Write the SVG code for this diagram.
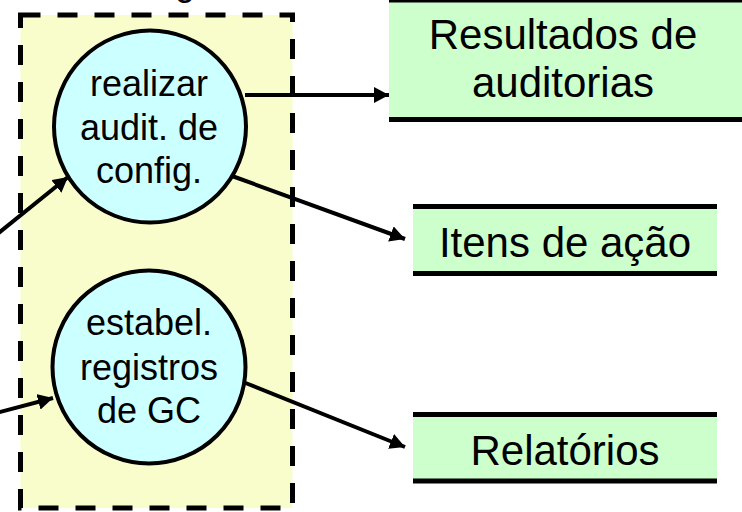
<svg xmlns="http://www.w3.org/2000/svg" width="742" height="512" viewBox="0 0 742 512">
  <style>
    .t { font-family: "Liberation Sans", Arial, sans-serif; fill: #000; text-anchor: middle; }
    .c { font-size: 36px; }
    .b { font-size: 42px; }
    .proc { fill: #CCFFFF; stroke: #000; stroke-width: 4; }
    .store { fill: #CCFFCC; }
    .bar { stroke: #000; stroke-width: 5; }
    .conn { stroke: #000; stroke-width: 4; fill: none; marker-end: url(#ah); }
  </style>
  <defs>
    <marker id="ah" markerUnits="userSpaceOnUse" markerWidth="16" markerHeight="16" refX="15" refY="8" orient="auto" viewBox="0 0 16 16">
      <path d="M0,0 L15,8 L0,16 z" fill="#000"/>
    </marker>
  </defs>

  <rect width="742" height="512" fill="#fff"/>

  <text class="t c" x="185" y="-5">g</text>

  <g id="boundary">
    <rect x="20.5" y="15" width="272" height="493" fill="#F9FDCB" stroke="#000" stroke-width="5" stroke-dasharray="20 17"/>
  </g>

  <g id="connectors">
    <line class="conn" x1="245" y1="95" x2="389" y2="95"/>
    <line class="conn" x1="232" y1="176" x2="405" y2="239"/>
    <line class="conn" x1="243" y1="382" x2="405" y2="447"/>
    <line class="conn" x1="-10" y1="240" x2="68" y2="177"/>
    <line class="conn" x1="-10" y1="414.7" x2="53" y2="398"/>
  </g>

  <g id="proc-auditoria">
    <circle class="proc" cx="150" cy="126.5" r="96"/>
    <text class="t c" x="149" y="96">realizar</text>
    <text class="t c" x="149" y="140">audit. de</text>
    <text class="t c" x="149" y="183">config.</text>
  </g>

  <g id="proc-registros">
    <circle class="proc" cx="149" cy="367" r="96.5"/>
    <text class="t c" x="149" y="335">estabel.</text>
    <text class="t c" x="149" y="380">registros</text>
    <text class="t c" x="149" y="423">de GC</text>
  </g>

  <g id="store-resultados">
    <rect class="store" x="389" y="0" width="360" height="119"/>
    <line class="bar" x1="389" y1="0" x2="750" y2="0"/>
    <line class="bar" x1="389" y1="119.5" x2="750" y2="119.5"/>
    <text class="t b" x="563" y="49">Resultados de</text>
    <text class="t b" x="563" y="97">auditorias</text>
  </g>

  <g id="store-itens">
    <rect class="store" x="413" y="206.5" width="304" height="67"/>
    <line class="bar" x1="413" y1="206.5" x2="717" y2="206.5"/>
    <line class="bar" x1="413" y1="273.5" x2="717" y2="273.5"/>
    <text class="t b" x="565" y="257">Itens de ação</text>
  </g>

  <g id="store-relatorios">
    <rect class="store" x="413" y="414.5" width="304" height="66.5"/>
    <line class="bar" x1="413" y1="414.5" x2="717" y2="414.5"/>
    <line class="bar" x1="413" y1="481" x2="717" y2="481"/>
    <text class="t b" x="565" y="465">Relatórios</text>
  </g>
</svg>
